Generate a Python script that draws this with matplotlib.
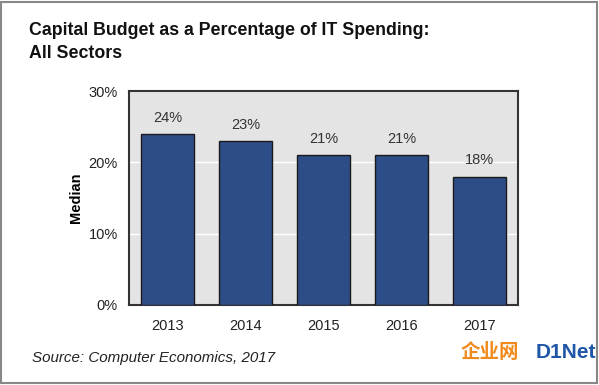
import matplotlib.pyplot as plt
from matplotlib.patches import Rectangle

years = ['2013', '2014', '2015', '2016', '2017']
median_pct = [24, 23, 21, 21, 18]
yticks = [0, 10, 20, 30]

plt.rcParams['font.family'] = ['Liberation Sans', 'Noto Sans CJK SC', 'DejaVu Sans']

fig = plt.figure(figsize=(5.99, 3.85), dpi=100)
fig.patch.set_facecolor('white')
fig.patches.append(Rectangle((0.002, 0.004), 0.994, 0.992, transform=fig.transFigure,
                             fill=False, edgecolor='#888888', linewidth=1.5))

ax = fig.add_axes([0.2154, 0.2078, 0.6494, 0.5558])
ax.set_facecolor('#e4e4e4')
x = range(len(years))
bars = ax.bar(x, median_pct, width=0.68, color='#2d4d88', edgecolor='#1a1a1a', linewidth=1, zorder=3)
for xi, v in zip(x, median_pct):
    ax.text(xi, v + 1.3, f'{v}%', ha='center', va='bottom', fontsize=10.5, color='#333333')

ax.set_xlim(-0.5, 4.5)
ax.set_ylim(0, 30)
ax.set_yticks(yticks)
ax.set_yticklabels([f'{t}%' for t in yticks], fontsize=10.5, color='#222222')
ax.set_xticks(list(x))
ax.set_xticklabels(years, fontsize=10.5, color='#222222')
ax.tick_params(length=0, pad=8)
ax.tick_params(axis='x', pad=10)
ax.yaxis.grid(True, color='white', linewidth=1, zorder=0)
ax.set_axisbelow(True)
for s in ax.spines.values():
    s.set_color('#333333')
    s.set_linewidth(1.5)
ax.set_ylabel('Median', fontsize=10.5, fontweight='bold', labelpad=4)

fig.text(0.048, 0.943, 'Capital Budget as a Percentage of IT Spending:\nAll Sectors',
         fontsize=12.8, fontweight='bold', color='#111111', va='top', ha='left', linespacing=1.5)
fig.text(0.053, 0.07, 'Source: Computer Economics, 2017', fontsize=10.9, style='italic',
         color='#222222', va='center', ha='left')

# watermark
fig.text(0.818, 0.085, '企业网', fontsize=14, fontweight='bold', color='#f08a1c', va='center', ha='center')
fig.text(0.945, 0.085, 'D1Net', fontsize=15, fontweight='bold', color='#1f56a8', va='center', ha='center')

fig.savefig('out.png', dpi=100)
